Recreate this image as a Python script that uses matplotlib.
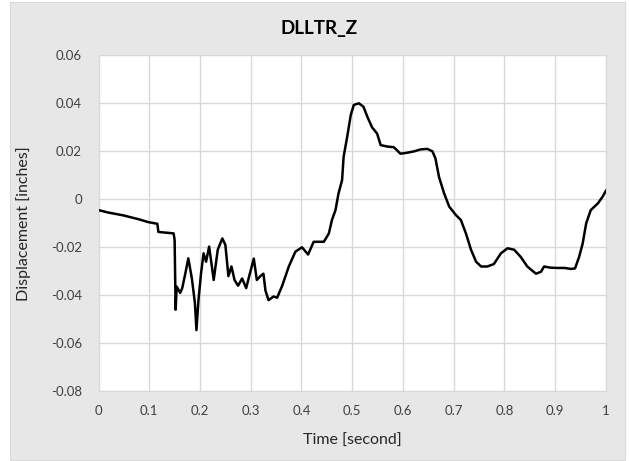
import matplotlib.pyplot as plt
from matplotlib.patches import Rectangle

# Valores
tempo = [0.000, 0.019, 0.049, 0.079, 0.098, 0.116, 0.118, 0.148, 0.150, 0.152,
         0.154, 0.161, 0.165, 0.171, 0.177, 0.184, 0.190, 0.193, 0.197, 0.202,
         0.207, 0.212, 0.218, 0.227, 0.235, 0.244, 0.250, 0.256, 0.262, 0.268,
         0.275, 0.283, 0.291, 0.297, 0.306, 0.312, 0.319, 0.325, 0.329, 0.335,
         0.345, 0.352, 0.362, 0.375, 0.388, 0.401, 0.413, 0.424, 0.444, 0.454,
         0.460, 0.467, 0.473, 0.480, 0.483, 0.490, 0.497, 0.503, 0.513, 0.522,
         0.530, 0.539, 0.549, 0.556, 0.569, 0.582, 0.595, 0.608, 0.622, 0.635,
         0.648, 0.658, 0.664, 0.671, 0.681, 0.691, 0.704, 0.714, 0.724, 0.734,
         0.744, 0.754, 0.766, 0.779, 0.793, 0.806, 0.819, 0.832, 0.845, 0.862,
         0.872, 0.878, 0.891, 0.905, 0.918, 0.931, 0.939, 0.947, 0.954, 0.961,
         0.970, 0.984, 0.993, 1.000]
deslocamento = [-0.0045, -0.0055, -0.0067, -0.0083, -0.0095, -0.0102, -0.0136, -0.0142, -0.0170, -0.0460,
                -0.0364, -0.0390, -0.0370, -0.0310, -0.0246, -0.0330, -0.0433, -0.0545, -0.0420, -0.0310,
                -0.0225, -0.0260, -0.0197, -0.0336, -0.0210, -0.0163, -0.0190, -0.0320, -0.0280, -0.0336,
                -0.0360, -0.0330, -0.0370, -0.0320, -0.0247, -0.0336, -0.0320, -0.0310, -0.0380, -0.0420,
                -0.0405, -0.0410, -0.0360, -0.0280, -0.0218, -0.0200, -0.0230, -0.0177, -0.0177, -0.0142,
                -0.0086, -0.0045, 0.0025, 0.0080, 0.0177, 0.0260, 0.0350, 0.0393, 0.0400, 0.0386,
                0.0343, 0.0300, 0.0274, 0.0226, 0.0220, 0.0217, 0.0190, 0.0194, 0.0200, 0.0208,
                0.0210, 0.0200, 0.0170, 0.0093, 0.0025, -0.0030, -0.0065, -0.0086, -0.0142, -0.0210,
                -0.0260, -0.0280, -0.0280, -0.0270, -0.0225, -0.0204, -0.0210, -0.0240, -0.0280, -0.0310,
                -0.0302, -0.0280, -0.0285, -0.0286, -0.0286, -0.0290, -0.0288, -0.0240, -0.0185, -0.0100,
                -0.0045, -0.0017, 0.0010, 0.0036]

x_ticks = [0, 0.1, 0.2, 0.3, 0.4, 0.5, 0.6, 0.7, 0.8, 0.9, 1]
x_labels = ["0", "0.1", "0.2", "0.3", "0.4", "0.5", "0.6", "0.7", "0.8", "0.9", "1"]
y_ticks = [-0.08, -0.06, -0.04, -0.02, 0, 0.02, 0.04, 0.06]
y_labels = ["-0.08", "-0.06", "-0.04", "-0.02", "0", "0.02", "0.04", "0.06"]

plt.rcParams['font.family'] = ['Lato', 'DejaVu Sans']

fig = plt.figure(figsize=(6.29, 4.61), dpi=100)
fig.patch.set_facecolor('white')
# fundo cinza estilo Excel
fig.patches.append(Rectangle((10 / 629, 1 / 461), 615 / 629, 458 / 461, transform=fig.transFigure,
                             facecolor='#e7e7e7', edgecolor='#d9d9d9', lw=0.8, zorder=-1))

ax = fig.add_axes([0.1566, 0.1512, 0.8068, 0.7288])
ax.set_zorder(1)
ax.set_facecolor('white')
ax.plot(tempo, deslocamento, color='black', lw=1.8, zorder=3)

ax.set_xlim(0, 1)
ax.set_ylim(-0.08, 0.06)
ax.set_xticks(x_ticks)
ax.set_xticklabels(x_labels)
ax.set_yticks(y_ticks)
ax.set_yticklabels(y_labels)
ax.tick_params(length=0, labelsize=9.5, colors='#404040')
ax.tick_params(axis='y', pad=12)
ax.tick_params(axis='x', pad=10)
ax.grid(True, color='#d9d9d9', lw=1)
for s in ax.spines.values():
    s.set_color('#d9d9d9')

ax.set_xlabel('Time [second]', fontsize=11.5, color='#262626', labelpad=12)
fig.text(0.037, 0.515, 'Displacement [inches]', rotation=90, ha='center', va='center',
         fontsize=11.5, color='#262626')
fig.text(0.508, 0.938, 'DLLTR_Z', ha='center', va='center', fontsize=13.5, fontweight='bold', color='black')

fig.savefig('out.png', dpi=100, facecolor=fig.get_facecolor())
